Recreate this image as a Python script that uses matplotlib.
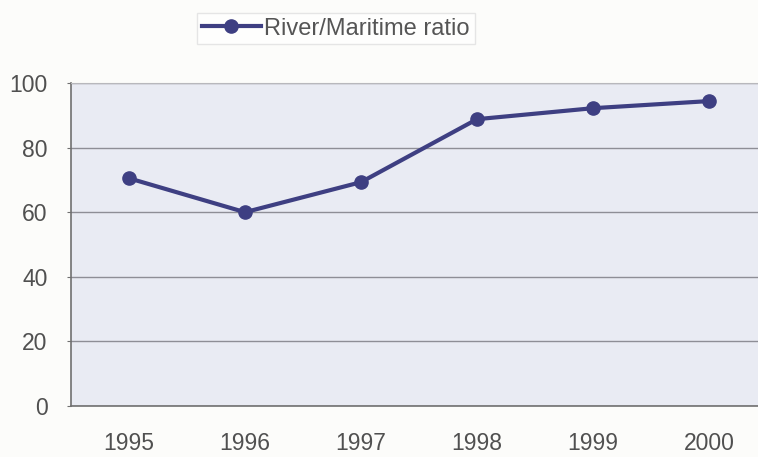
import matplotlib
matplotlib.use("Agg")
import matplotlib.pyplot as plt

years = ["1995", "1996", "1997", "1998", "1999", "2000"]
ratio = [70.5, 60, 69.3, 88.8, 92.2, 94.4]
y_ticks = [0, 20, 40, 60, 80, 100]
series_name = "River/Maritime ratio"

plt.rcParams['font.family'] = ['Liberation Sans', 'DejaVu Sans']

fig = plt.figure(figsize=(7.58, 4.57), dpi=100, facecolor="#fcfcfa")
ax = fig.add_axes([71/758, 1-406/457, (767-71)/758, (406-83)/457])
ax.set_facecolor("#e9ebf3")

x = list(range(len(years)))
ax.plot(x, ratio, color="#3e3f82", lw=3.0, marker="o", ms=9.5,
        markerfacecolor="#3e3f82", markeredgecolor="#3e3f82",
        label=series_name, zorder=3)

ax.set_xlim(-0.5, len(years) - 0.5)
ax.set_ylim(0, 100)
ax.set_yticks(y_ticks)
ax.set_xticks(x)
ax.set_xticklabels(years)
ax.yaxis.grid(True, color="#8e8e96", lw=1.0)
ax.set_axisbelow(True)
for s in ["left", "bottom"]:
    ax.spines[s].set_color("#707070")
    ax.spines[s].set_linewidth(1.2)
ax.spines["top"].set_color("#b8b8bc")
ax.spines["right"].set_visible(False)
ax.tick_params(axis="y", length=3, color="#707070", labelsize=16.5,
               labelcolor="#505050", pad=14)
ax.tick_params(axis="x", length=0, labelsize=16.5, labelcolor="#505050", pad=19)

leg = fig.legend(loc="upper left", bbox_to_anchor=(197/758, 1-13/457),
                 frameon=True, fontsize=17, handlelength=2.5,
                 borderpad=0.2, handletextpad=0.15, labelcolor="#555555",
                 fancybox=False, borderaxespad=0)
leg.get_frame().set_edgecolor("#e0e0e0")
leg.get_frame().set_facecolor("white")

fig.savefig("out.png", dpi=100, facecolor=fig.get_facecolor())
